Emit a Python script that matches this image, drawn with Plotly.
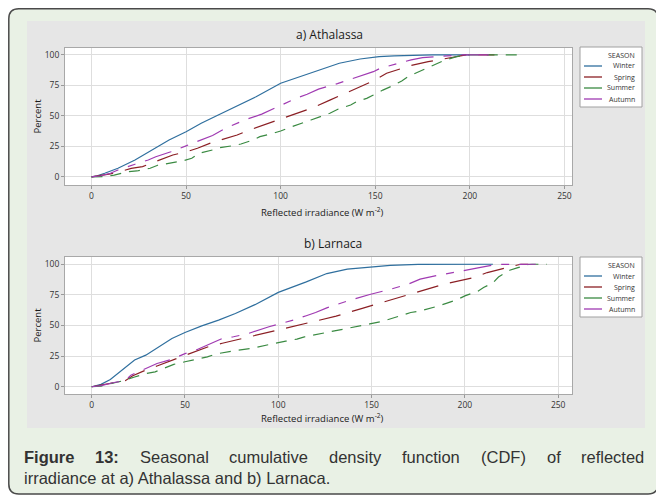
import plotly.graph_objects as go

# ---------------- data ----------------
seasons = ["Winter", "Spring", "Summer", "Autumn"]

ath_winter_x = [0, 3, 7, 14, 23, 32, 41, 50, 58, 67, 76, 79, 87, 100, 110, 121, 131, 142, 152, 160, 168, 180, 195, 200]
ath_winter_y = [0, 1, 3, 7.1, 13.9, 22.1, 30.3, 37.1, 44, 50.8, 57.6, 60, 65.8, 76.8, 82.2, 87.7, 93.2, 96.7, 98.6, 99.3, 99.8, 100, 100, 100]

ath_spring_x = [0, 5, 10, 14, 21, 27, 34, 43, 50, 56, 64, 70, 77, 85, 91, 97, 106, 112, 117, 126, 135, 149, 156, 162, 168, 178, 185, 193, 198, 213]
ath_spring_y = [0, 1, 2.5, 3.9, 7, 8.5, 12.5, 18, 20.5, 23.5, 28.4, 31, 34.4, 39.3, 42.5, 46, 50.8, 54, 56.8, 63, 69, 78.7, 85, 88, 91, 94.5, 96.5, 98.6, 100, 100]

ath_summer_x = [0, 7, 12, 19, 24, 31, 35, 42, 48, 53, 57, 64, 68, 75, 79, 85.5, 89, 96, 100, 106, 110, 116, 121, 126, 130.5, 137, 140, 145.5, 149, 154, 159, 164, 167.5, 173, 177, 183, 187, 193, 198, 228]
ath_summer_y = [0, 0.3, 1.5, 4.3, 4.9, 7.1, 9.6, 11.2, 13.1, 15.3, 19.4, 22.1, 24, 25.7, 27, 30.3, 33, 35.8, 37.7, 41.2, 43.2, 46.7, 49.4, 52.2, 55.7, 59, 61.7, 64.4, 67.1, 71.2, 74.6, 78.7, 82.4, 86.3, 89.1, 93.2, 95.9, 98.6, 100, 100]

ath_autumn_x = [0, 5, 10, 14, 23, 30, 34, 42, 50, 57, 64, 71, 74, 81, 90, 95, 102, 109, 114, 120, 130, 140, 149, 152.5, 162, 169, 175, 184, 195, 210]
ath_autumn_y = [0, 1, 3, 5.7, 10.4, 13.9, 16.6, 20.7, 25.5, 30, 34, 40, 42, 46.7, 51.5, 55, 60.4, 65, 67.8, 72, 76.5, 81.5, 86.3, 89, 93, 96, 97.8, 98.6, 100, 100]

lar_winter_x = [0, 5, 10, 14, 23, 29, 36, 43, 50, 59, 68, 77, 87.5, 100, 115, 126, 137, 149, 160, 175, 200, 215]
lar_winter_y = [0, 2, 6, 10.9, 21.8, 25.8, 32.6, 39.4, 44.3, 49.7, 54.4, 59.8, 67, 77, 85.6, 92.4, 96, 97.8, 99, 99.8, 100, 100]

lar_spring_x = [0, 10, 18, 22, 28, 35, 42, 50, 56, 63, 70, 77, 86, 99, 108, 122, 131, 145, 160, 168, 181, 190, 204, 212, 226, 230, 234]
lar_spring_y = [0, 2.5, 5, 9, 13, 17, 21, 25, 29, 33, 35.5, 38, 41.6, 46.2, 49.7, 54.4, 57.6, 64, 70.7, 74, 79.6, 84.2, 88.8, 93.2, 98.6, 100, 100]

lar_summer_x = [0, 5, 10.7, 16, 23, 29.5, 34, 39, 44, 50, 56, 62, 67, 71, 78.5, 85.7, 91, 98, 104, 110, 114, 121, 126, 133, 138, 146, 149, 156, 161, 165, 171, 175, 180, 186, 190, 196, 200, 207, 210, 215, 218, 224, 228, 234, 236, 244]
lar_summer_y = [0, 0.5, 2.8, 4.6, 8, 10.9, 12.2, 15, 18.3, 20.4, 22.6, 24.4, 26.9, 28, 29.9, 31.3, 33.3, 35.4, 37.2, 38.9, 40.7, 42.7, 44.3, 46.2, 48.1, 50.3, 51.3, 53.5, 55.7, 58, 60.6, 61.5, 63.3, 66, 68, 71.2, 74.2, 78, 81, 84.8, 89.6, 95.1, 97, 99.8, 100, 100]

lar_autumn_x = [0, 5, 12, 18, 21, 28, 35, 42, 50, 56, 63, 70, 76, 84, 95, 108, 115, 120, 126, 137, 149, 160, 170, 176, 184, 189, 196, 207, 217, 225, 238]
lar_autumn_y = [0, 1, 3.5, 5, 9.5, 14, 19, 22, 27, 30, 35, 39.4, 40.8, 43.5, 49, 54.4, 58, 60.6, 64.4, 70, 75.3, 79.5, 84, 87.8, 90.5, 92, 94.3, 97, 99.8, 100, 100]

x_ticks = [0, 50, 100, 150, 200, 250]
y_ticks = [0, 25, 50, 75, 100]

panel_titles = ["a) Athalassa", "b) Larnaca"]
x_title = "Reflected irradiance (W m<sup>-2</sup>)"
y_title = "Percent"
legend_title = "SEASON"
caption_line1 = ["<b>Figure</b>", "<b>13:</b>", "Seasonal", "cumulative", "density",
                 "function", "(CDF)", "of", "reflected"]
caption_line2 = "irradiance at a) Athalassa and b) Larnaca."

# ---------------- styling ----------------
colors = {"Winter": "#2f6f9e", "Spring": "#8b1f24", "Summer": "#3a8a42", "Autumn": "#a03ab2"}
dashes = {"Winter": "solid", "Spring": "22px,12px", "Summer": "11px,8px", "Autumn": "28px,10px,8px,10px"}

# page body has an 8px default margin: the figure is drawn 8px in and 8px down
OFF = 8
W, H = 664 - OFF, 498 - OFF
def px(x):
    return (x - OFF) / W
def py(y):
    return 1 - (y - OFF) / H

FONT = "Open Sans"

fig = go.Figure()

series = {
    ("x", "y"): [(ath_winter_x, ath_winter_y), (ath_spring_x, ath_spring_y),
                 (ath_summer_x, ath_summer_y), (ath_autumn_x, ath_autumn_y)],
    ("x2", "y2"): [(lar_winter_x, lar_winter_y), (lar_spring_x, lar_spring_y),
                   (lar_summer_x, lar_summer_y), (lar_autumn_x, lar_autumn_y)],
}
for (xa, ya), data in series.items():
    for s, (xs, ys) in zip(seasons, data):
        fig.add_trace(go.Scatter(
            x=xs, y=ys, mode="lines", name=s, xaxis=xa, yaxis=ya,
            line=dict(color=colors[s], width=1.2, dash=dashes[s]),
            showlegend=False, hoverinfo="skip"))

axis_common = dict(
    showgrid=True, gridcolor="#dedede", gridwidth=1,
    showline=True, mirror=True, linecolor="#a8a8a8", linewidth=1,
    ticks="outside", ticklen=3, tickcolor="#999999",
    tickfont=dict(family=FONT, size=8.5, color="#333333"),
    zeroline=False, fixedrange=True,
)

top_plot = (65, 572, 48, 185)
bot_plot = (65, 572, 257, 394)

fig.update_layout(
    width=W, height=H, margin=dict(l=0, r=0, t=0, b=0),
    paper_bgcolor="white", plot_bgcolor="white",
    xaxis=dict(domain=[px(top_plot[0]), px(top_plot[1])], range=[-14, 254], anchor="y", tickvals=x_ticks, **axis_common),
    yaxis=dict(domain=[py(top_plot[3]), py(top_plot[2])], range=[-6.6, 105.7], anchor="x", tickvals=y_ticks, **axis_common),
    xaxis2=dict(domain=[px(bot_plot[0]), px(bot_plot[1])], range=[-14.3, 257.4], anchor="y2", tickvals=x_ticks, **axis_common),
    yaxis2=dict(domain=[py(bot_plot[3]), py(bot_plot[2])], range=[-5.9, 105.9], anchor="x2", tickvals=y_ticks, **axis_common),
    showlegend=False,
)

shapes = []
# rounded outer frame
x0, y0, x1, y1, r = 7, 5, 658, 494, 10
def P(x, y):
    return f"{px(x):.5f},{py(y):.5f}"
x0 = max(x0, OFF + 0.8)
y0 = max(y0, OFF + 0.8)
path = (f"M {P(x0 + r, y0)} L {P(x1 - r, y0)} Q {P(x1, y0)} {P(x1, y0 + r)} "
        f"L {P(x1, y1 - r)} Q {P(x1, y1)} {P(x1 - r, y1)} "
        f"L {P(x0 + r, y1)} Q {P(x0, y1)} {P(x0, y1 - r)} "
        f"L {P(x0, y0 + r)} Q {P(x0, y0)} {P(x0 + r, y0)} Z")
shapes.append(dict(type="path", xref="paper", yref="paper", path=path,
                   fillcolor="#e9f1e5", line=dict(color="#4a4a4a", width=1.5), layer="below"))
# gray chart panel
shapes.append(dict(type="rect", xref="paper", yref="paper", x0=px(27), x1=px(645), y0=py(428), y1=py(21),
                   fillcolor="#e6e6e6", line=dict(width=0), layer="below"))
# white plot areas
for (a, b, c, d) in [top_plot, bot_plot]:
    shapes.append(dict(type="rect", xref="paper", yref="paper", x0=px(a), x1=px(b), y0=py(d), y1=py(c),
                       fillcolor="white", line=dict(width=0), layer="below"))

annotations = []
# panel titles
for t, (cx, cy) in zip(panel_titles, [(329, 35), (333, 243)]):
    annotations.append(dict(text=t, x=px(cx), y=py(cy), xref="paper", yref="paper", showarrow=False,
                            xanchor="center", yanchor="middle", font=dict(family=FONT, size=12, color="#1a1a1a")))
# axis titles
for cy in [116.5, 325.5]:
    annotations.append(dict(text=y_title, x=px(37), y=py(cy), xref="paper", yref="paper", showarrow=False,
                            textangle=-90, xanchor="center", yanchor="middle",
                            font=dict(family=FONT, size=9.5, color="#1a1a1a")))
for cy in [212, 418]:
    annotations.append(dict(text=x_title, x=px(322), y=py(cy), xref="paper", yref="paper", showarrow=False,
                            xanchor="center", yanchor="middle", font=dict(family=FONT, size=9.5, color="#1a1a1a")))

# legends (one per panel)
for top in [47, 257]:
    shapes.append(dict(type="rect", xref="paper", yref="paper", x0=px(580), x1=px(642), y0=py(top + 60), y1=py(top),
                       fillcolor="white", line=dict(color="#a0a0a0", width=1)))
    annotations.append(dict(text=legend_title, x=px(637), y=py(top + 8), xref="paper", yref="paper",
                            showarrow=False, xanchor="right", yanchor="middle",
                            font=dict(family=FONT, size=7, color="#333333")))
    for i, s in enumerate(seasons):
        yy = top + 19 + i * 11
        shapes.append(dict(type="line", xref="paper", yref="paper", x0=px(584), x1=px(602), y0=py(yy), y1=py(yy),
                           line=dict(color=colors[s], width=1.3)))
        annotations.append(dict(text=s, x=px(637), y=py(yy), xref="paper", yref="paper", showarrow=False,
                                xanchor="right", yanchor="middle",
                                font=dict(family=FONT, size=7, color="#333333")))

# caption (first line justified word by word)
CAP = "Liberation Sans"
word_left = [22, 93, 137.5, 227, 327, 400, 479, 544.5, 578.5]
for w, xl in zip(caption_line1, word_left):
    annotations.append(dict(text=w, x=px(xl), y=py(457), xref="paper", yref="paper", showarrow=False,
                            xanchor="left", yanchor="middle", font=dict(family=CAP, size=16.5, color="#333333")))
annotations.append(dict(text=caption_line2, x=px(22), y=py(478), xref="paper",
                        yref="paper", showarrow=False, xanchor="left", yanchor="middle",
                        font=dict(family=CAP, size=16.5, color="#333333")))

fig.update_layout(shapes=shapes, annotations=annotations)
fig.write_html("out.html")
